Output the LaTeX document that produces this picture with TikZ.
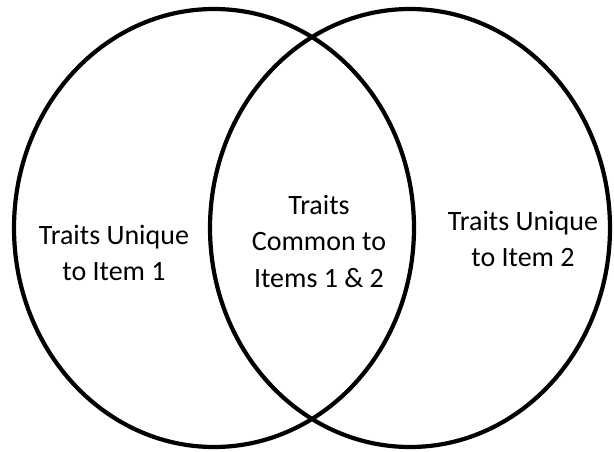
\documentclass[tikz,border=0pt]{standalone}
\usepackage{fontspec}
\setmainfont{Carlito}
\begin{document}
\begin{tikzpicture}[x=1pt,y=-1pt,
  venn/.style={draw=black,line width=4.2pt},
  lbl/.style={font=\fontsize{28}{36}\selectfont,inner sep=0pt,anchor=base}]
\useasboundingbox (0,0) rectangle (614,451);
\draw[venn] (214,228) ellipse [x radius=200,y radius=219];
\draw[venn] (410,228) ellipse [x radius=200,y radius=219];
\node[lbl] (l1) at (114,244) {Traits Unique};
\node[lbl] (l2) at (114,280) {to Item 1};
\node[lbl] (c1) at (319,214) {Traits};
\node[lbl] (c2) at (319,250) {Common to};
\node[lbl] (c3) at (319,287) {Items 1 \& 2};
\node[lbl] (r1) at (523,230) {Traits Unique};
\node[lbl] (r2) at (523,266) {to Item 2};
\end{tikzpicture}
\end{document}
